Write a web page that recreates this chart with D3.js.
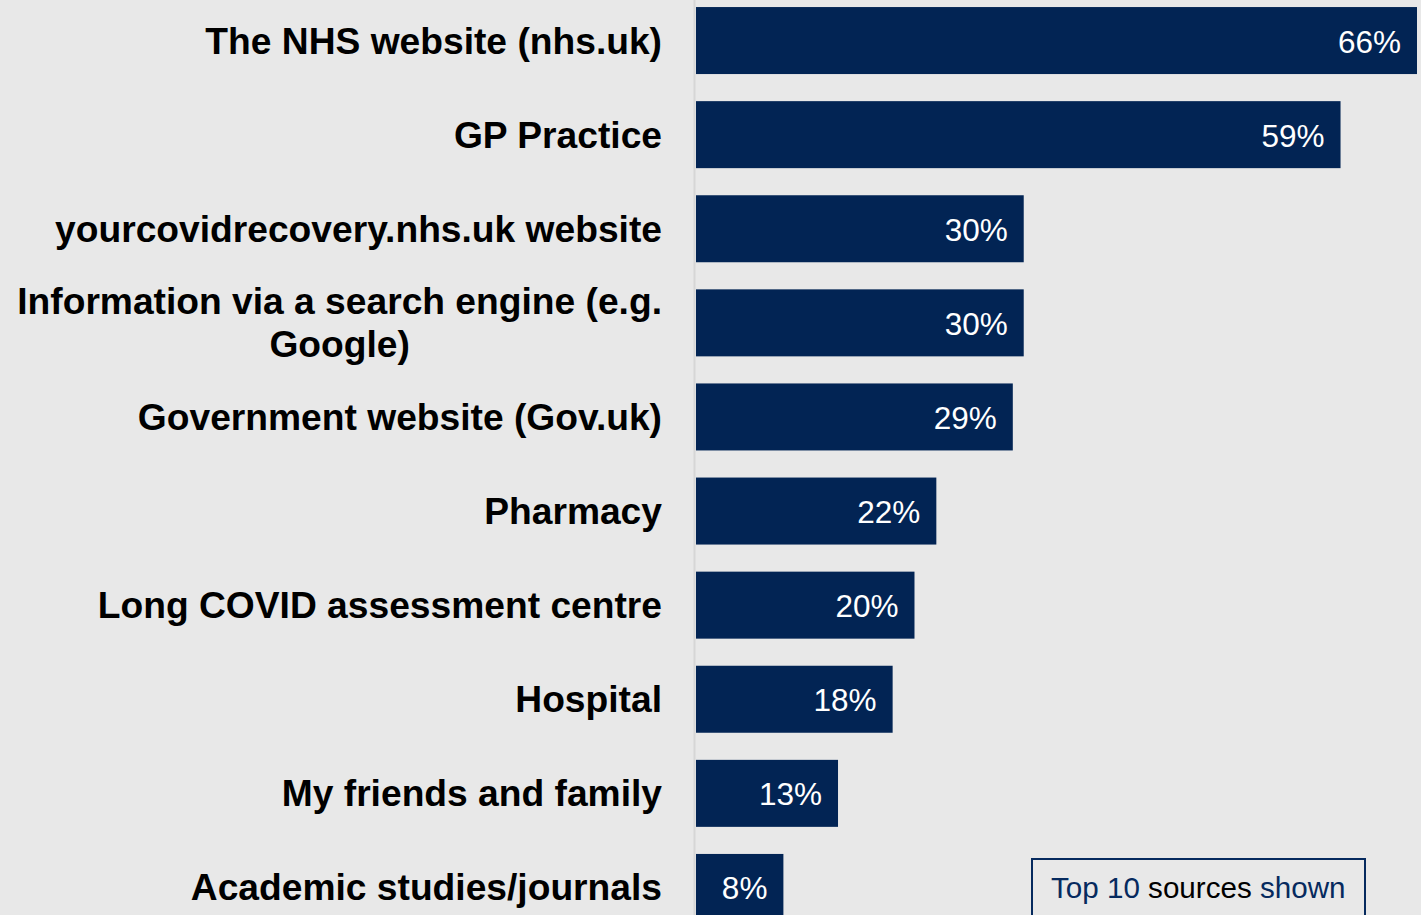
<!DOCTYPE html>
<html>
<head>
<meta charset="utf-8">
<script src="https://cdn.jsdelivr.net/npm/d3@7"></script>
<style>
  html, body { margin: 0; padding: 0; background: #e8e8e8; }
  svg { display: block; font-family: "Liberation Sans", Arial, sans-serif; }
</style>
</head>
<body>
<div id="chart"></div>
<script>

// data
const categories = [
  "The NHS website (nhs.uk)",
  "GP Practice",
  "yourcovidrecovery.nhs.uk website",
  "Information via a search engine (e.g.|Google)",
  "Government website (Gov.uk)",
  "Pharmacy",
  "Long COVID assessment centre",
  "Hospital",
  "My friends and family",
  "Academic studies/journals"
];
const values = [66, 59, 30, 30, 29, 22, 20, 18, 13, 8];
const noteParts = [["Top 10 ", "#062a5e"], ["sources ", "#000"], ["shown", "#062a5e"]];

const widthTotal = 1421, heightTotal = 915;
const barLeft = 696;
const barColor = "#022454";

const svg = d3.select("#chart").append("svg")
    .attr("width", widthTotal)
    .attr("height", heightTotal);

svg.append("rect")
    .attr("width", widthTotal).attr("height", heightTotal)
    .attr("fill", "#e8e8e8");

// scales
const xScale = d3.scaleLinear()
    .domain([0, 66])
    .range([barLeft, 1417]);

const yScale = d3.scaleBand()
    .domain(categories)
    .range([-6.5, 934.5])
    .paddingInner(0.288)
    .paddingOuter(0.144);

// axis line at left of bars
svg.append("line")
    .attr("x1", barLeft - 1.5).attr("x2", barLeft - 1.5)
    .attr("y1", 0).attr("y2", heightTotal)
    .attr("stroke", "#d6d6d6")
    .attr("stroke-width", 2);

// bars
svg.selectAll("rect.bar")
    .data(categories)
  .enter().append("rect")
    .attr("class", "bar")
    .attr("x", xScale(0))
    .attr("y", d => yScale(d))
    .attr("width", (d, i) => xScale(values[i]) - xScale(0))
    .attr("height", yScale.bandwidth())
    .attr("fill", barColor);

// value labels
svg.selectAll("text.val")
    .data(categories)
  .enter().append("text")
    .attr("class", "val")
    .attr("x", (d, i) => xScale(values[i]) - 16)
    .attr("y", d => yScale(d) + yScale.bandwidth() / 2 + 12)
    .attr("text-anchor", "end")
    .attr("fill", "#fff")
    .style("font-size", "31.5px")
    .text((d, i) => values[i] + "%");

// category labels (right aligned, multi-line centered within block)
categories.forEach(cat => {
  const lines = cat.split("|");
  const cy = yScale(cat) + yScale.bandwidth() / 2;
  const g = svg.append("g");
  const lineH = 43;
  const texts = lines.map((ln, j) => g.append("text")
      .attr("y", cy + 13 + (j - (lines.length - 1) / 2) * lineH)
      .attr("text-anchor", "middle")
      .attr("fill", "#000")
      .style("font-size", "37.2px")
      .style("font-weight", "bold")
      .text(ln));
  const widths = texts.map(t => t.node().getComputedTextLength());
  const maxW = d3.max(widths);
  texts.forEach(t => t.attr("x", 662 - maxW / 2));
});

// note box
const note = svg.append("g");
note.append("rect")
    .attr("x", 1032).attr("y", 859)
    .attr("width", 333).attr("height", 70)
    .attr("fill", "none")
    .attr("stroke", "#062a5e")
    .attr("stroke-width", 2);
const noteText = note.append("text")
    .attr("x", 1051).attr("y", 898)
    .style("font-size", "29.6px");
noteParts.forEach(p => noteText.append("tspan").attr("fill", p[1]).text(p[0]));

</script>
</body>
</html>
